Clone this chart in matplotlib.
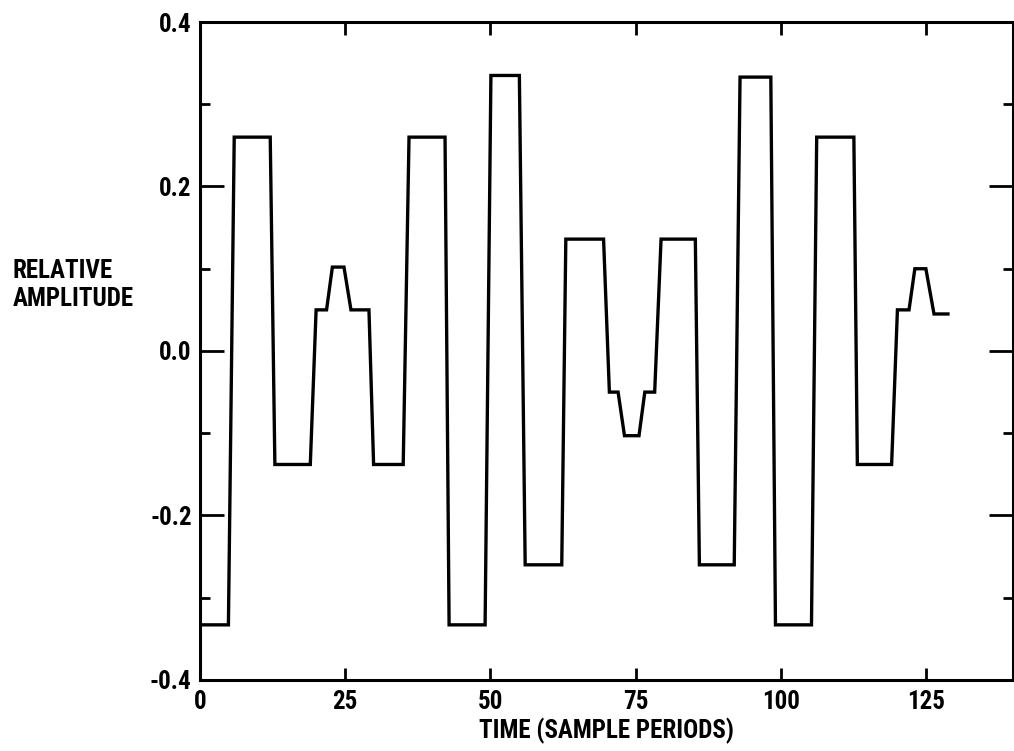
import matplotlib
matplotlib.use("Agg")
import matplotlib.pyplot as plt
from matplotlib.ticker import MultipleLocator

# vertices of the trace (time in sample periods, relative amplitude)
time = [0.5, 4.9, 5.9, 12.1, 12.9, 19.0, 20.0, 21.8, 22.8, 24.8, 26.0, 29.1,
        29.9, 35.0, 36.0, 42.2, 42.9, 49.1, 50.1, 55.0, 56.0, 62.3, 63.0, 69.5,
        70.5, 72.0, 73.1, 75.6, 76.6, 78.3, 79.4, 85.3, 86.0, 92.0, 93.0, 98.3,
        99.1, 105.3, 106.2, 112.6, 113.2, 119.1, 120.1, 122.1, 123.1, 125.0, 126.4, 128.8]
amplitude = [-0.333, -0.333, 0.26, 0.26, -0.138, -0.138, 0.05, 0.05, 0.102, 0.102, 0.05, 0.05,
             -0.138, -0.138, 0.26, 0.26, -0.333, -0.333, 0.335, 0.335, -0.26, -0.26, 0.136, 0.136,
             -0.05, -0.05, -0.103, -0.103, -0.05, -0.05, 0.136, 0.136, -0.26, -0.26, 0.333, 0.333,
             -0.333, -0.333, 0.26, 0.26, -0.138, -0.138, 0.05, 0.05, 0.1, 0.1, 0.045, 0.045]

xticks = [0, 25, 50, 75, 100, 125]
yticks = [-0.4, -0.2, 0.0, 0.2, 0.4]
ytick_labels = ["-0.4", "-0.2", "0.0", "0.2", "0.4"]

plt.rcParams['font.family'] = ['Roboto Condensed', 'DejaVu Sans']
plt.rcParams['font.weight'] = 'bold'
plt.rcParams['font.stretch'] = 'condensed'
plt.rcParams['axes.labelweight'] = 'bold'


def main():
    fig = plt.figure(figsize=(10.14, 7.51), dpi=100)
    ax = fig.add_axes([0.1972, 0.0946, 0.8018, 0.8761])

    ax.plot(time, amplitude, color='black', lw=2.4, solid_joinstyle='miter')

    ax.set_xlim(0, 140)
    ax.set_ylim(-0.4, 0.4)
    ax.set_xticks(xticks)
    ax.set_xticklabels([str(t) for t in xticks])
    ax.set_yticks(yticks)
    ax.set_yticklabels(ytick_labels)
    ax.yaxis.set_minor_locator(MultipleLocator(0.1))

    ax.tick_params(axis='x', which='major', direction='in', top=True, bottom=True,
                   length=9, width=2, pad=7, labelsize=18)
    ax.tick_params(axis='y', which='major', direction='in', left=True, right=True,
                   length=17, width=2, pad=6, labelsize=18)
    ax.tick_params(axis='y', which='minor', direction='in', left=True, right=True,
                   length=7, width=2)
    for s in ax.spines.values():
        s.set_linewidth(2.2)

    ax.set_xlabel("TIME (SAMPLE PERIODS)", fontsize=18, labelpad=3)
    fig.text(13 / 1014, 1 - 285 / 751, "RELATIVE\nAMPLITUDE", fontsize=18,
             ha='left', va='center', multialignment='left', linespacing=1.2)

    fig.savefig("out.png", dpi=100, facecolor='white')


if __name__ == "__main__":
    main()
